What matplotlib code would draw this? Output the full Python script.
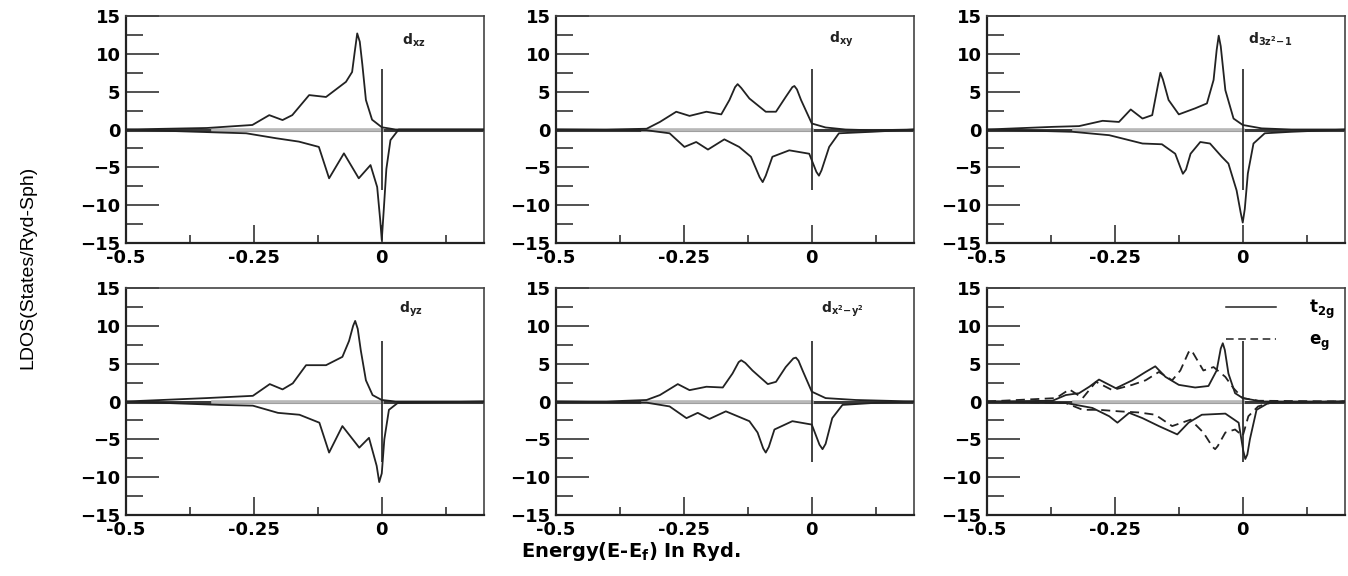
import numpy as np
import matplotlib
matplotlib.use("Agg")
import matplotlib.pyplot as plt
from matplotlib.ticker import MultipleLocator, FixedLocator

# ---- data (energy in Ryd, LDOS) ----
# d_xz
xz_up_e = [-0.5, -0.342, -0.253, -0.220, -0.194, -0.175, -0.142, -0.109, -0.070, -0.058,
           -0.053, -0.048, -0.043, -0.038, -0.031, -0.019, 0.0, 0.027, 0.2]
xz_up_d = [0.0, 0.2, 0.6, 1.9, 1.25, 1.9, 4.55, 4.3, 6.3, 7.6, 10.2, 12.7, 11.6, 8.6, 3.9,
           1.3, 0.3, 0.0, 0.0]
xz_dn_e = [-0.5, -0.315, -0.265, -0.207, -0.162, -0.123, -0.103, -0.074, -0.045, -0.022,
           -0.009, -0.003, 0.0, 0.004, 0.009, 0.017, 0.033, 0.2]
xz_dn_d = [0.0, -0.4, -0.5, -1.15, -1.6, -2.3, -6.45, -3.15, -6.45, -4.7, -7.6, -12.0,
           -14.6, -10.5, -5.2, -1.4, 0.0, 0.0]

# d_xy
xy_up_e = [-0.5, -0.401, -0.323, -0.297, -0.265, -0.239, -0.206, -0.177, -0.161, -0.150,
           -0.145, -0.138, -0.122, -0.090, -0.070, -0.051, -0.038, -0.034, -0.029, -0.021,
           0.0, 0.027, 0.066, 0.118, 0.2]
xy_up_d = [0.0, 0.0, 0.1, 1.0, 2.35, 1.8, 2.35, 2.0, 3.9, 5.6, 6.0, 5.5, 4.1, 2.35, 2.35,
           4.3, 5.6, 5.75, 5.3, 3.9, 0.8, 0.27, 0.0, -0.1, 0.0]
xy_dn_e = [-0.5, -0.323, -0.278, -0.249, -0.226, -0.203, -0.171, -0.142, -0.119, -0.102,
           -0.096, -0.090, -0.077, -0.044, -0.005, 0.009, 0.014, 0.019, 0.034, 0.053,
           0.118, 0.2]
xy_dn_d = [0.0, -0.1, -0.5, -2.3, -1.65, -2.65, -1.3, -2.3, -3.6, -6.3, -6.95, -6.1, -3.6,
           -2.75, -3.2, -5.6, -6.1, -5.4, -2.3, -0.5, -0.3, 0.0]

# d_3z^2-1
z2_up_e = [-0.5, -0.372, -0.320, -0.274, -0.242, -0.219, -0.196, -0.177, -0.166, -0.161,
           -0.156, -0.145, -0.125, -0.093, -0.070, -0.057, -0.051, -0.047, -0.043, -0.034,
           -0.018, 0.0, 0.037, 0.095, 0.2]
z2_up_d = [0.0, 0.35, 0.45, 1.15, 1.0, 2.65, 1.45, 1.9, 5.8, 7.5, 6.6, 3.9, 2.0, 2.8, 3.45,
           6.55, 10.5, 12.4, 11.0, 5.2, 1.45, 0.6, 0.15, 0.0, 0.0]
z2_dn_e = [-0.5, -0.333, -0.261, -0.196, -0.158, -0.132, -0.122, -0.117, -0.111, -0.102,
           -0.083, -0.064, -0.041, -0.028, -0.012, -0.004, 0.0, 0.004, 0.010, 0.021, 0.043,
           0.095, 0.2]
z2_dn_d = [0.0, -0.3, -0.75, -1.85, -1.95, -3.2, -5.0, -5.85, -5.3, -3.2, -1.65, -1.85,
           -3.6, -4.5, -8.05, -11.0, -12.3, -10.5, -5.8, -1.85, -0.5, -0.3, 0.0]

# d_yz
yz_up_e = [-0.5, -0.343, -0.252, -0.219, -0.194, -0.174, -0.148, -0.109, -0.077, -0.064,
           -0.056, -0.052, -0.047, -0.041, -0.031, -0.018, 0.0, 0.027, 0.2]
yz_up_d = [0.0, 0.45, 0.75, 2.3, 1.6, 2.4, 4.8, 4.8, 5.9, 8.0, 10.0, 10.65, 9.6, 6.75, 2.8,
           0.85, 0.2, 0.0, 0.0]
yz_dn_e = [-0.5, -0.317, -0.252, -0.203, -0.161, -0.122, -0.103, -0.077, -0.044, -0.025,
           -0.010, -0.005, 0.0, 0.005, 0.014, 0.031, 0.2]
yz_dn_d = [0.0, -0.45, -0.55, -1.5, -1.75, -2.8, -6.75, -3.25, -6.1, -4.8, -8.5, -10.65,
           -9.5, -5.0, -1.1, -0.2, 0.0]

# d_x^2-y^2
x2_up_e = [-0.5, -0.401, -0.323, -0.297, -0.262, -0.239, -0.206, -0.174, -0.155, -0.143,
           -0.138, -0.130, -0.116, -0.086, -0.070, -0.051, -0.036, -0.031, -0.026, -0.018,
           0.0, 0.027, 0.086, 0.2]
x2_up_d = [0.0, 0.0, 0.2, 0.85, 2.3, 1.5, 1.95, 1.85, 3.7, 5.2, 5.45, 5.1, 4.1, 2.3, 2.6,
           4.55, 5.7, 5.8, 5.4, 4.1, 1.3, 0.45, 0.2, 0.0]
x2_dn_e = [-0.5, -0.323, -0.278, -0.245, -0.223, -0.200, -0.168, -0.122, -0.106, -0.095,
           -0.090, -0.084, -0.073, -0.038, 0.0, 0.015, 0.021, 0.027, 0.040, 0.060, 0.118,
           0.2]
x2_dn_d = [0.0, -0.15, -0.65, -2.2, -1.5, -2.3, -1.3, -2.6, -4.1, -6.2, -6.75, -6.0, -3.7,
           -2.6, -3.05, -5.7, -6.3, -5.6, -2.2, -0.45, -0.2, 0.0]

# t2g / eg
t2g_up_e = [-0.5, -0.372, -0.346, -0.320, -0.300, -0.281, -0.248, -0.216, -0.190, -0.171,
            -0.151, -0.125, -0.093, -0.067, -0.051, -0.043, -0.039, -0.035, -0.028, -0.015,
            0.0, 0.037, 0.2]
t2g_up_d = [0.0, 0.1, 0.85, 1.1, 1.95, 2.9, 1.75, 2.8, 3.9, 4.65, 3.25, 2.2, 1.85, 2.05,
            4.1, 7.0, 7.7, 6.8, 3.7, 1.1, 0.45, 0.0, 0.0]
eg_up_e = [-0.5, -0.365, -0.339, -0.313, -0.287, -0.255, -0.216, -0.190, -0.164, -0.138,
           -0.122, -0.106, -0.102, -0.097, -0.077, -0.057, -0.034, -0.018, 0.0, 0.030, 0.2]
eg_up_d = [0.0, 0.45, 1.6, 0.45, 2.6, 1.5, 2.2, 2.8, 3.9, 2.8, 4.1, 6.5, 6.8, 6.4, 4.1,
           4.55, 3.25, 1.75, 0.45, 0.1, 0.0]
t2g_dn_e = [-0.5, -0.346, -0.294, -0.261, -0.245, -0.222, -0.196, -0.164, -0.128, -0.106,
            -0.080, -0.034, -0.008, 0.001, 0.005, 0.009, 0.014, 0.027, 0.050, 0.2]
t2g_dn_d = [0.0, -0.2, -0.85, -1.95, -2.8, -1.5, -2.2, -3.25, -4.35, -2.8, -1.75, -1.6,
            -2.8, -6.5, -7.6, -7.0, -5.0, -1.1, -0.2, 0.0]
eg_dn_e = [-0.5, -0.346, -0.313, -0.281, -0.242, -0.203, -0.171, -0.138, -0.102, -0.077,
           -0.059, -0.054, -0.049, -0.034, -0.015, 0.0, 0.011, 0.030, 0.056, 0.2]
eg_dn_d = [0.0, -0.2, -1.1, -1.1, -1.3, -1.45, -1.75, -3.25, -2.4, -4.1, -6.0, -6.3, -5.9,
           -4.1, -3.7, -4.55, -1.95, -0.65, -0.15, 0.0]

labels = [r"$\mathbf{d_{xz}}$", r"$\mathbf{d_{xy}}$", r"$\mathbf{d_{3z^2\!-\!1}}$",
          r"$\mathbf{d_{yz}}$", r"$\mathbf{d_{x^2\!-\!y^2}}$", None]
label_pos = [(0.040, 11.8), (0.033, 11.9), (0.010, 11.9),
             (0.034, 12.2), (0.018, 12.2), None]

orbitals = [
    [(xz_up_e, xz_up_d, "-"), (xz_dn_e, xz_dn_d, "-")],
    [(xy_up_e, xy_up_d, "-"), (xy_dn_e, xy_dn_d, "-")],
    [(z2_up_e, z2_up_d, "-"), (z2_dn_e, z2_dn_d, "-")],
    [(yz_up_e, yz_up_d, "-"), (yz_dn_e, yz_dn_d, "-")],
    [(x2_up_e, x2_up_d, "-"), (x2_dn_e, x2_dn_d, "-")],
    [(t2g_up_e, t2g_up_d, "-"), (eg_up_e, eg_up_d, "--"),
     (t2g_dn_e, t2g_dn_d, "-"), (eg_dn_e, eg_dn_d, "--")],
]

fig = plt.figure(figsize=(13.48, 5.76), dpi=100)

lefts = [0.0935, 0.4125, 0.7322]
bottoms = [0.5781, 0.1059]
w, h = 0.2656, 0.3941

for k in range(6):
    r, c = divmod(k, 3)
    ax = fig.add_axes([lefts[c], bottoms[r], w, h])
    ax.set_xlim(-0.5, 0.2)
    ax.set_ylim(-15, 15)

    # zero line: dark outside, grey in the band region
    ax.axhline(0, color="#3a3a3a", lw=2.2, zorder=1)
    ax.plot([-0.33, 0.0], [0, 0], color="#b8b8b8", lw=2.6, zorder=1.5)
    # Fermi level
    ax.vlines(0, -8, 8, color="#333333", lw=1.3, zorder=2)

    for e, d, ls in orbitals[k]:
        if ls == "--":
            ax.plot(e, d, color="#222222", lw=1.3, ls="--", dashes=(5, 3), zorder=3)
        else:
            ax.plot(e, d, color="#222222", lw=1.3, zorder=3)

    if labels[k] is not None:
        ax.text(label_pos[k][0], label_pos[k][1], labels[k], fontsize=10,
                ha="left", va="center", color="#222222")
    else:
        ax.plot([], [], color="#222222", lw=1.1, label=r"$\mathbf{t_{2g}}$")
        ax.plot([], [], color="#222222", lw=1.1, ls="--", dashes=(5, 3),
                label=r"$\mathbf{e_{g}}$")
        ax.legend(loc="upper right", frameon=False, fontsize=12, handlelength=3.0,
                  handletextpad=2.0, labelspacing=0.6, borderaxespad=0.2)

    ax.xaxis.set_major_locator(FixedLocator([-0.5, -0.25, 0.0]))
    ax.xaxis.set_minor_locator(FixedLocator([-0.375, -0.125, 0.125]))
    ax.set_xticklabels(["-0.5", "-0.25", "0"])
    ax.yaxis.set_major_locator(MultipleLocator(5))
    ax.yaxis.set_minor_locator(MultipleLocator(2.5))

    ax.tick_params(axis="y", which="major", direction="in", length=24, width=1.2,
                   colors="#333333", labelcolor="black", labelsize=13, pad=4)
    ax.tick_params(axis="y", which="minor", direction="in", length=12, width=1.2,
                   colors="#333333")
    ax.tick_params(axis="x", which="major", direction="in", length=13, width=1.2,
                   colors="#333333", labelcolor="black", labelsize=13, pad=4)
    ax.tick_params(axis="x", which="minor", direction="in", length=6, width=1.2,
                   colors="#333333")
    for lab in ax.get_xticklabels() + ax.get_yticklabels():
        lab.set_fontweight("bold")

    for side in ["left", "bottom"]:
        ax.spines[side].set_linewidth(1.6)
        ax.spines[side].set_color("#222222")
    for side in ["top", "right"]:
        ax.spines[side].set_linewidth(1.2)
        ax.spines[side].set_color("#444444")

fig.text(0.021, 0.535, "LDOS(States/Ryd-Sph)", rotation=90, ha="center", va="center",
         fontsize=14, family="Liberation Sans")
fig.text(0.468, 0.042, r"Energy(E-E$_\mathbf{f}$) In Ryd.", ha="center", va="center",
         fontsize=14, fontweight="bold")

fig.savefig("out.png", dpi=100)
